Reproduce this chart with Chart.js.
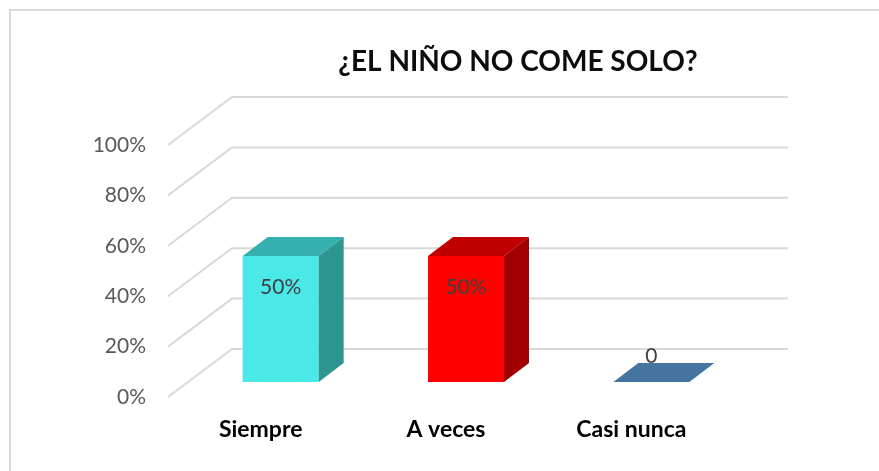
<!DOCTYPE html>
<html>
<head>
<meta charset="utf-8">
<script src="https://cdn.jsdelivr.net/npm/chart.js@4.4.1/dist/chart.umd.min.js"></script>
<style>
    html, body { margin: 0; padding: 0; background: #fff; }
    #wrap { width: 879px; height: 471px; }
</style>
</head>
<body>
<div id="wrap"><canvas id="chart" width="879" height="471"></canvas></div>
<script>
// Data
const categories = ['Siempre', 'A veces', 'Casi nunca'];
const values = [50, 50, 0];
const valueLabels = ['50%', '50%', '0'];
const yTicks = [0, 20, 40, 60, 80, 100];
const chartTitle = '¿EL NIÑO NO COME SOLO?';

// Face colours per bar
const frontColors = ['#4AE8E6', '#FF0000', '#44749F'];
const topColors = ['#36B0AE', '#C00000', '#44749F'];
const sideColors = ['#2D9590', '#A00000', '#345A7C'];

const DEPTH = { x: 25, y: -19 };  // bar depth
const BACK = { x: 44, y: -33 };   // back wall, relative to bar front plane
const FRONT = { x: -20, y: 15 };  // floor front edge

const FONT = 'Lato';

const threeD = {
    id: 'threeD',
    beforeDraw(chart) {
        const ctx = chart.ctx;
        ctx.save();
        ctx.fillStyle = '#fff';
        ctx.fillRect(0, 0, chart.width, chart.height);
        // frame
        ctx.strokeStyle = '#d9d9d9';
        ctx.lineWidth = 2;
        ctx.beginPath();
        ctx.moveTo(10, chart.height);
        ctx.lineTo(10, 10);
        ctx.lineTo(chart.width, 10);
        ctx.stroke();
        // title
        ctx.fillStyle = '#0d0d0d';
        ctx.font = `bold 28px ${FONT}`;
        ctx.textAlign = 'center';
        ctx.textBaseline = 'middle';
        ctx.fillText(chartTitle, 518, 62);
        ctx.restore();
    },
    beforeDatasetsDraw(chart) {
        const { ctx, chartArea, scales: { y } } = chart;
        ctx.save();
        ctx.strokeStyle = '#d9d9d9';
        ctx.lineWidth = 2;
        yTicks.forEach(v => {
            const py = y.getPixelForValue(v);
            ctx.beginPath();
            ctx.moveTo(chartArea.left + FRONT.x, py + FRONT.y);
            ctx.lineTo(chartArea.left + BACK.x, py + BACK.y);
            ctx.lineTo(chartArea.right + BACK.x, py + BACK.y);
            ctx.stroke();
        });
        ctx.restore();
    },
    afterDatasetsDraw(chart) {
        const ctx = chart.ctx;
        const meta = chart.getDatasetMeta(0);
        ctx.save();
        meta.data.forEach((bar, i) => {
            const { x, y, base, width } = bar.getProps(['x', 'y', 'base', 'width'], true);
            const l = x - width / 2, r = x + width / 2;

            // top face
            ctx.fillStyle = topColors[i];
            ctx.beginPath();
            ctx.moveTo(l, y);
            ctx.lineTo(l + DEPTH.x, y + DEPTH.y);
            ctx.lineTo(r + DEPTH.x, y + DEPTH.y);
            ctx.lineTo(r, y);
            ctx.closePath();
            ctx.fill();

            // side face
            if (base - y > 0.5) {
                ctx.fillStyle = sideColors[i];
                ctx.beginPath();
                ctx.moveTo(r, y);
                ctx.lineTo(r + DEPTH.x, y + DEPTH.y);
                ctx.lineTo(r + DEPTH.x, base + DEPTH.y);
                ctx.lineTo(r, base);
                ctx.closePath();
                ctx.fill();
            }

            // value label
            ctx.fillStyle = '#404040';
            ctx.font = `21px ${FONT}`;
            ctx.textAlign = 'center';
            ctx.textBaseline = 'middle';
            const ly = values[i] > 0 ? y + 31 : y - 26;
            ctx.fillText(valueLabels[i], x, ly);
        });
        ctx.restore();
    }
};

new Chart(document.getElementById('chart'), {
    type: 'bar',
    data: {
        labels: categories,
        datasets: [{
            data: values,
            backgroundColor: frontColors,
            borderWidth: 0,
            categoryPercentage: 1,
            barPercentage: 0.41
        }]
    },
    options: {
        responsive: false,
        animation: false,
        devicePixelRatio: 1,
        layout: { padding: { top: 130, right: 135, bottom: 0, left: 0 } },
        plugins: {
            legend: { display: false },
            tooltip: { enabled: false },
            title: { display: false }
        },
        scales: {
            x: {
                grid: { display: false, drawTicks: false },
                border: { display: false },
                ticks: {
                    color: '#000',
                    font: { family: FONT, size: 23, weight: 'bold' },
                    padding: 34,
                    labelOffset: -20
                },
                afterFit(scale) { scale.height = 89; }
            },
            y: {
                min: 0,
                max: 100,
                grid: { display: false, drawTicks: false },
                border: { display: false },
                ticks: {
                    stepSize: 20,
                    callback: v => v + '%',
                    color: '#595959',
                    font: { family: FONT, size: 21 },
                    padding: 42,
                    labelOffset: 15
                },
                afterFit(scale) { scale.width = 188; }
            }
        }
    },
    plugins: [threeD]
});
</script>
</body>
</html>
